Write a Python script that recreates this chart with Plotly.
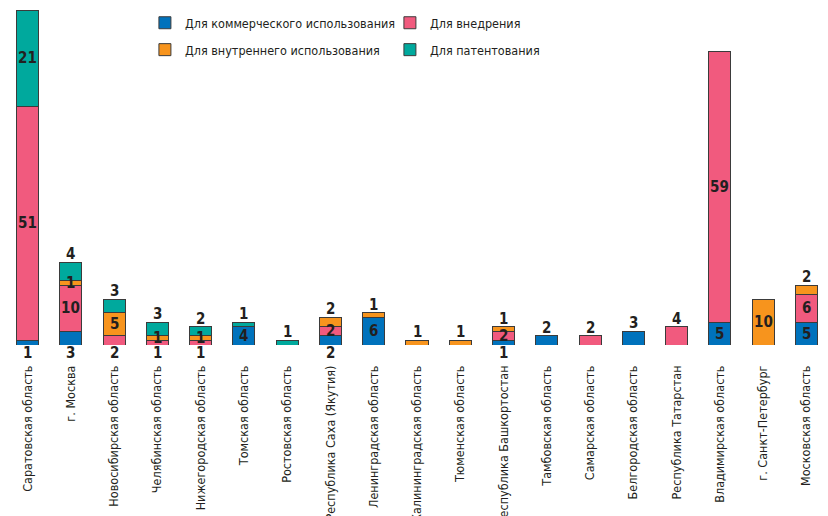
import plotly.graph_objects as go

# Regions (x categories)
regions = [
    "Саратовская область", "г. Москва", "Новосибирская область",
    "Челябинская область", "Нижегородская область", "Томская область",
    "Ростовская область", "Республика Саха (Якутия)", "Ленинградская область",
    "Калининградская область", "Тюменская область", "Республика Башкортостан",
    "Тамбовская область", "Самарская область", "Белгородская область",
    "Республика Татарстан", "Владимирская область", "г. Санкт-Петербург",
    "Московская область",
]

# Counts per purpose, stacked bottom to top
commercial     = [1, 3, 0, 0, 0, 4, 0, 2, 6, 0, 0, 1, 2, 0, 3, 0, 5, 0, 5]
implementation = [51, 10, 2, 1, 1, 0, 0, 2, 0, 0, 0, 2, 0, 2, 0, 4, 59, 0, 6]
internal       = [0, 1, 5, 1, 1, 0, 0, 2, 1, 1, 1, 1, 0, 0, 0, 0, 0, 10, 2]
patenting      = [21, 4, 3, 3, 2, 1, 1, 0, 0, 0, 0, 0, 0, 0, 0, 0, 0, 0, 0]

series_names = [
    "Для коммерческого использования",
    "Для внедрения",
    "Для внутреннего использования",
    "Для патентования",
]
series_values = [commercial, implementation, internal, patenting]
colors = ["#0072bc", "#f15a7e", "#f7941d", "#00a99d"]
legend_ids = ["legend", "legend", "legend2", "legend2"]

FONT = "DejaVu Sans Condensed, Roboto, sans-serif"
TEXT_COLOR = "#231f20"

fig = go.Figure()
for name, vals, col, lg in zip(series_names, series_values, colors, legend_ids):
    fig.add_trace(go.Bar(
        x=regions,
        y=[v if v else None for v in vals],
        name=name,
        legend=lg,
        marker=dict(color=col, line=dict(color="#3b3b3b", width=1)),
        hoverinfo="x+y+name",
    ))

# Value labels: large segments inside, small end segments above/below the stack
annotations = []
for i, reg in enumerate(regions):
    vals = [s[i] for s in series_values]
    nonzero = [k for k, v in enumerate(vals) if v > 0]
    base = 0
    for k, v in enumerate(vals):
        if v == 0:
            continue
        is_top = k == nonzero[-1]
        is_bottom = k == nonzero[0]
        if is_top and v < 5:
            y, anchor, shift = base + v, "bottom", -3
        elif is_bottom and not is_top and v < 4:
            y, anchor, shift = 0, "top", 3
        else:
            y, anchor, shift = base + v / 2, "middle", 0
        annotations.append(dict(
            x=reg, y=y, text=f"<b>{v}</b>", showarrow=False,
            yanchor=anchor, yshift=shift,
            font=dict(family=FONT, size=15, color=TEXT_COLOR),
        ))
        base += v

legend_style = dict(
    orientation="h", xanchor="left", yanchor="middle",
    bgcolor="rgba(0,0,0,0)", traceorder="normal",
    font=dict(family=FONT, size=12.5, color=TEXT_COLOR),
    itemwidth=30, entrywidthmode="pixels",
)

fig.update_layout(
    width=828, height=516,
    margin=dict(l=6, r=0, t=0, b=171),
    barmode="stack",
    bargap=0.49,
    plot_bgcolor="white",
    paper_bgcolor="white",
    font=dict(family=FONT, size=14, color=TEXT_COLOR),
    annotations=annotations,
    legend=dict(legend_style, x=0.169, y=0.933, entrywidth=200),
    legend2=dict(legend_style, x=0.169, y=0.855, entrywidth=200),
    xaxis=dict(
        tickangle=-90, showgrid=False, showline=False, zeroline=False,
        ticks="", ticklabelstandoff=17, automargin=False,
        tickfont=dict(family=FONT, size=12.5, color=TEXT_COLOR),
    ),
    yaxis=dict(
        range=[0, 75.2], visible=False, showgrid=False, zeroline=False,
    ),
)

fig.write_html("out.html")
